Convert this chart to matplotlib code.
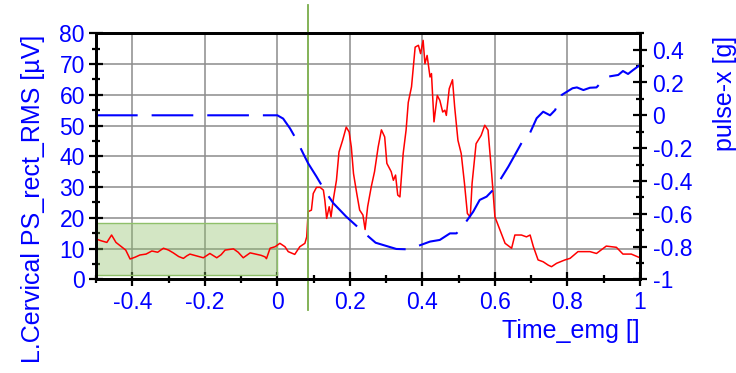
import numpy as np
import matplotlib
matplotlib.use("Agg")
import matplotlib.pyplot as plt
from matplotlib.patches import Rectangle
from matplotlib.ticker import MultipleLocator, FuncFormatter

# dane
emg_t = [-0.500, -0.485, -0.470, -0.457, -0.445, -0.430, -0.418, -0.406, -0.392, -0.379,
         -0.362, -0.346, -0.330, -0.314, -0.300, -0.287, -0.272, -0.259, -0.250, -0.241,
         -0.222, -0.204, -0.186, -0.167, -0.155, -0.144, -0.121, -0.108, -0.094, -0.075,
         -0.057, -0.045, -0.034, -0.030, -0.020, -0.006, 0.007, 0.021, 0.030, 0.048,
         0.062, 0.076, 0.081, 0.085, 0.094, 0.099, 0.108, 0.118, 0.127, 0.131,
         0.136, 0.143, 0.148, 0.154, 0.163, 0.170, 0.180, 0.190, 0.198, 0.204,
         0.210, 0.219, 0.227, 0.236, 0.242, 0.249, 0.259, 0.268, 0.278, 0.287,
         0.296, 0.302, 0.314, 0.320, 0.326, 0.332, 0.338, 0.347, 0.355, 0.361,
         0.370, 0.380, 0.389, 0.395, 0.402, 0.407, 0.413, 0.421, 0.425, 0.432,
         0.441, 0.448, 0.456, 0.462, 0.466, 0.474, 0.483, 0.489, 0.498, 0.507,
         0.516, 0.524, 0.532, 0.537, 0.548, 0.562, 0.572, 0.581, 0.591, 0.600,
         0.614, 0.628, 0.646, 0.655, 0.673, 0.687, 0.697, 0.706, 0.719, 0.733,
         0.747, 0.756, 0.770, 0.793, 0.807, 0.829, 0.862, 0.880, 0.907, 0.935,
         0.953, 0.976, 0.994, 1.000]
emg_rms = [13.1, 12.5, 12.0, 14.4, 12.0, 10.6, 9.5, 6.6, 7.2, 7.9,
           8.2, 9.2, 8.8, 10.1, 9.5, 8.6, 7.4, 6.8, 7.6, 8.2,
           7.6, 7.0, 8.4, 7.0, 8.0, 9.5, 9.9, 8.8, 7.0, 8.6,
           8.1, 7.8, 7.3, 6.7, 10.1, 10.6, 11.7, 10.6, 9.0, 8.1,
           10.6, 11.7, 13.8, 22.0, 22.5, 27.9, 29.9, 29.9, 29.0, 25.7,
           19.8, 23.6, 20.3, 25.7, 32.2, 41.4, 45.2, 49.5, 47.9, 43.0,
           34.4, 27.9, 22.5, 20.9, 16.2, 23.6, 30.1, 35.0, 43.0, 48.6,
           46.3, 37.7, 35.0, 32.2, 33.9, 27.4, 26.8, 40.9, 48.5, 57.5,
           62.6, 75.5, 76.1, 73.4, 77.7, 70.1, 72.8, 65.8, 66.9, 51.2,
           59.8, 58.2, 54.4, 55.0, 53.3, 62.0, 64.9, 56.0, 45.2, 40.9,
           31.2, 21.4, 20.3, 31.2, 44.1, 46.8, 50.1, 48.5, 34.4, 20.3,
           16.0, 11.7, 10.1, 14.4, 14.4, 13.8, 14.4, 10.6, 6.3, 5.7,
           4.6, 4.1, 5.2, 6.3, 6.8, 9.0, 9.0, 8.4, 10.8, 10.4,
           8.2, 8.2, 7.3, 7.0]

pulse_t = [-0.5, 0.0, 0.016, 0.035, 0.053, 0.072, 0.085, 0.108, 0.131, 0.154,
           0.19, 0.236, 0.271, 0.301, 0.328, 0.356, 0.384, 0.421, 0.448, 0.476,
           0.494, 0.517, 0.540, 0.558, 0.577, 0.595, 0.614, 0.637, 0.660, 0.683,
           0.697, 0.715, 0.733, 0.752, 0.766, 0.784, 0.814, 0.826, 0.844, 0.862,
           0.880, 0.899, 0.910, 0.940, 0.953, 0.967, 0.981, 0.994, 1.0]
pulse_x = [0.0, 0.0, -0.02, -0.08, -0.15, -0.236, -0.293, -0.374, -0.46, -0.535,
           -0.618, -0.71, -0.777, -0.797, -0.815, -0.817, -0.80, -0.77, -0.76, -0.72,
           -0.72, -0.66, -0.588, -0.516, -0.496, -0.455, -0.395, -0.313, -0.222, -0.13,
           -0.106, -0.018, 0.022, 0.0, 0.032, 0.124, 0.165, 0.17, 0.154, 0.168,
           0.17, 0.215, 0.235, 0.246, 0.27, 0.252, 0.276, 0.297, 0.307]

# obszar odniesienia (baseline) i znacznik
baseline_t = (-0.5, 0.0)
baseline_rms = (1.4, 18.4)
marker_t = 0.085

plt.rcParams['font.family'] = ['Liberation Sans', 'DejaVu Sans']
plt.rcParams['axes.unicode_minus'] = False

fig = plt.figure(figsize=(7.36, 3.73), dpi=100)
ax = fig.add_axes([96 / 736, 1 - 279.3 / 373, 544 / 736, 246 / 373])
ax2 = ax.twinx()

blue = '#0000ff'
fmt = FuncFormatter(lambda v, p: '%g' % round(v, 3))

# prostokąt baseline
ax.add_patch(Rectangle((baseline_t[0], baseline_rms[0]), baseline_t[1] - baseline_t[0],
                       baseline_rms[1] - baseline_rms[0], facecolor=(0.55, 0.75, 0.40, 0.38),
                       edgecolor='#8fc06a', linewidth=1.0, zorder=1))

ax.plot(emg_t, emg_rms, color='#ff0000', linewidth=1.1, zorder=3)
ax2.plot(pulse_t, pulse_x, color=blue, linewidth=1.5, linestyle=(0, (20, 6.7)))

ax.axvline(marker_t, ymin=-0.125, ymax=1.115, color='#7aad4a', linewidth=1.3,
           clip_on=False, zorder=4)

ax.set_xlim(-0.5, 1.0)
ax.set_ylim(0, 80)
ax2.set_ylim(-1, 0.5)

ax.xaxis.set_major_locator(MultipleLocator(0.2))
ax.xaxis.set_minor_locator(MultipleLocator(0.1))
ax.yaxis.set_major_locator(MultipleLocator(10))
ax.yaxis.set_minor_locator(MultipleLocator(5))
ax2.yaxis.set_major_locator(MultipleLocator(0.2))
ax2.yaxis.set_minor_locator(MultipleLocator(0.1))
ax.xaxis.set_major_formatter(fmt)
ax2.yaxis.set_major_formatter(fmt)

ax.grid(True, which='major', color='#8c8c8c', linewidth=1.1)
ax.set_axisbelow(True)

for a in (ax, ax2):
    for s in a.spines.values():
        s.set_linewidth(2.0)
        s.set_color('black')

ax.tick_params(axis='both', which='major', direction='inout', length=10, width=1.6,
               labelsize=16.5, labelcolor=blue)
ax.tick_params(axis='both', which='minor', direction='inout', length=6, width=1.6)
ax.tick_params(axis='y', pad=3)
ax.tick_params(axis='x', pad=3.5)
ax2.tick_params(axis='y', which='major', direction='inout', length=10, width=1.6,
                labelsize=16.5, labelcolor=blue, pad=4)
ax2.tick_params(axis='y', which='minor', direction='inout', length=6, width=1.6)

ax.set_ylabel('L.Cervical PS_rect_RMS [µV]', fontsize=18, color=blue)
ax.yaxis.label.set(rotation_mode='default', ha='center', va='center')
ax.yaxis.set_label_coords((33.3 - 96) / 544, (279.3 - 199) / 246)

ax2.set_ylabel('pulse-x [g]', fontsize=18, color=blue)
ax2.yaxis.label.set(rotation=90, rotation_mode='default', ha='center', va='center')
ax2.yaxis.set_label_coords((725 - 96) / 544, (279.3 - 93.3) / 246)

ax.set_xlabel('Time_emg []', fontsize=18, color=blue)
ax.xaxis.label.set(ha='right', va='top')
ax.xaxis.set_label_coords(1.0, -0.161)

fig.savefig('out.png', dpi=100)
